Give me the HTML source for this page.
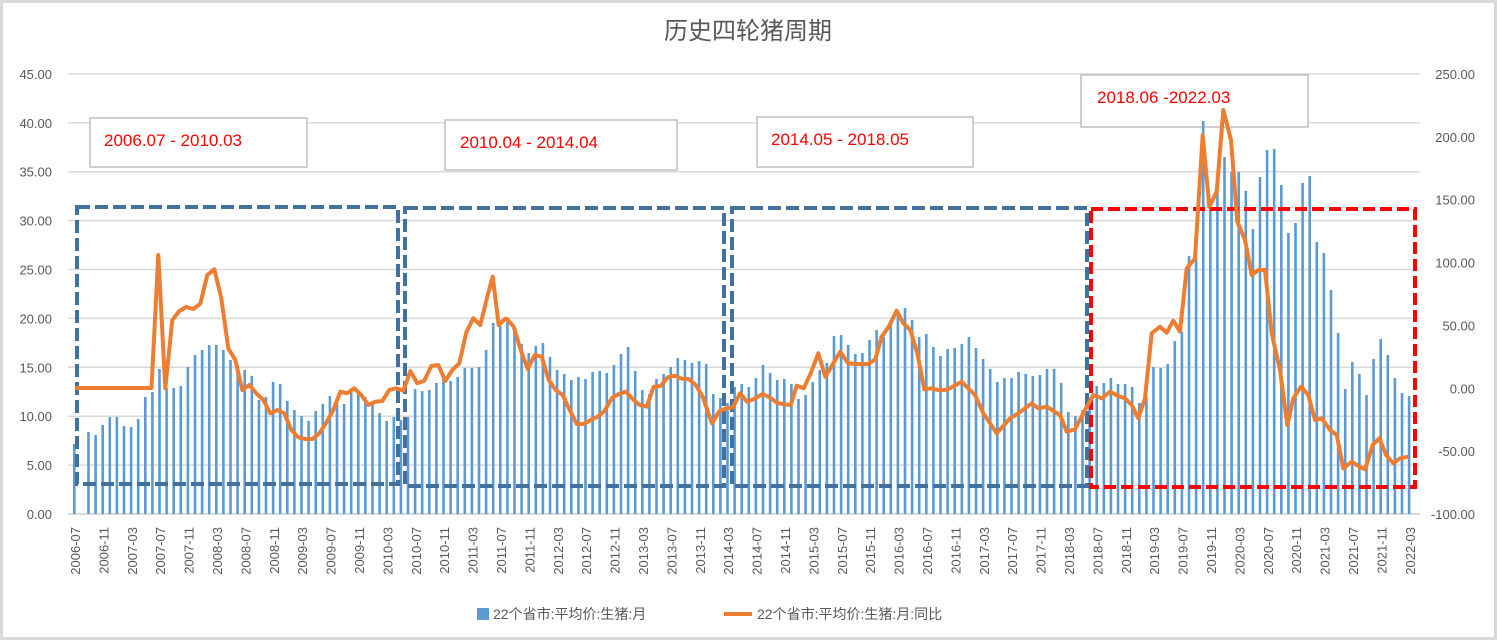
<!DOCTYPE html>
<html><head><meta charset="utf-8">
<style>
html,body{margin:0;padding:0;background:#fff;}
svg{display:block;font-family:"Liberation Sans","Noto Sans CJK SC",sans-serif;}
</style></head>
<body>
<svg id="s" width="1497" height="640" xmlns="http://www.w3.org/2000/svg">
<rect x="1.5" y="1.5" width="1494" height="637" fill="#fff" stroke="#d9d9d9" stroke-width="3"/>
<text x="748" y="39" text-anchor="middle" font-size="24" fill="#595959">历史四轮猪周期</text>
<g id="grid"></g>
<g fill="#fff" stroke="#bfbfbf" stroke-width="1.5">
<rect x="90" y="118" width="217" height="49"/>
<rect x="445" y="120" width="232" height="50"/>
<rect x="757" y="117" width="216" height="50"/>
<rect x="1081" y="75" width="227" height="52"/>
</g>
<g fill="#ff0000" font-size="17">
<text x="104" y="146">2006.07 - 2010.03</text>
<text x="460" y="148">2010.04 - 2014.04</text>
<text x="771" y="145">2014.05 - 2018.05</text>
<text x="1097" y="103">2018.06 -2022.03</text>
</g>
<g id="bars"></g>
<g id="boxes" fill="none" stroke-width="4">
<rect x="77" y="207" width="321" height="277" stroke="#41719c" stroke-dasharray="13,5"/>
<rect x="405" y="208" width="319" height="278" stroke="#41719c" stroke-dasharray="13,5"/>
<rect x="732" y="208" width="355" height="278" stroke="#41719c" stroke-dasharray="13,5"/>
<rect x="1091" y="209" width="324" height="278" stroke="#ff0000" stroke-dasharray="12,5"/>
</g>
<polyline id="line" fill="none" stroke="#ed7d31" stroke-width="4" stroke-linejoin="round"/>
<g id="labels" font-size="13" fill="#595959"></g>
<rect x="477" y="608" width="12" height="12" fill="#5b9bd5"/>
<text x="493" y="619" font-size="14" fill="#595959">22个省市:平均价:生猪:月</text>
<line x1="724" y1="614" x2="752" y2="614" stroke="#ed7d31" stroke-width="4"/>
<text x="757" y="619" font-size="14" fill="#595959">22个省市:平均价:生猪:月:同比</text>
</svg>
<script>
var NS="http://www.w3.org/2000/svg";
function el(t,a,p,txt){var e=document.createElementNS(NS,t);for(var k in a)e.setAttribute(k,a[k]);if(txt!==undefined)e.textContent=txt;document.getElementById(p).appendChild(e);return e;}
for(var i=0;i<=9;i++){var y=514-i*48.9;
 el('line',{x1:68,x2:1420,y1:y,y2:y,stroke:'#d9d9d9','stroke-width':i==0?2:1.5},'grid');
 el('text',{x:52,y:y+5,'text-anchor':'end'},'labels',(i*5).toFixed(2));
}
for(var i=0;i<=7;i++){var y=514-i*440/7;
 el('text',{x:1475,y:y+5,'text-anchor':'end'},'labels',(-100+i*50).toFixed(2));
}
var b=[444,514,432,435,425,417,417,426,427,419,397,392,369,388,388,386,367,355,350,345,345,350,360,365,370,376,400,397,382,384,401,410,416,421,411,404,396,398,404,390,390,397,404,413,421,417,420,417,389,391,390,383,375,381,377,368,368,367,350,323,326,322,330,344,353,346,343,357,370,374,380,377,379,372,371,373,365,354,347,371,390,394,379,374,367,358,360,363,361,364,394,398,403,387,384,387,378,365,373,380,379,384,399,395,382,370,363,336,335,345,354,353,340,330,337,322,315,308,320,337,334,347,356,349,348,344,337,348,359,369,382,378,378,372,374,376,375,369,369,383,412,416,410,403,386,383,378,384,384,387,403,397,367,368,364,341,332,256,258,121,203,190,157,172,172,191,229,177,150,149,185,233,223,183,176,242,253,290,333,389,362,374,395,359,339,355,378,393,396];
for(var i=0;i<b.length;i++){var x=74+i*7.1;el('rect',{x:x-1,y:b[i],width:2.6,height:514-b[i],fill:'#5b9bd5'},'bars');}
for(var i=0;i<189;i+=4){var yr=2006+Math.floor((6+i)/12),m=(6+i)%12+1;var x=75+i*7.1;
 el('text',{x:0,y:0,transform:'translate('+(x+5)+',527) rotate(-90)','text-anchor':'end'},'labels',yr+'-'+(m<10?'0':'')+m);}
var pts=[];
pts.push([75,388],[158-6.5,388]);
var z1=[[295,105],[316,505],[337,300],[358,273],[379,261],[400,267],[421,251],[442,165],[463,148],[484,235],[505,385],[526,420],[547,510],[568,495],[589,520],[610,540],[631,580],[652,570],[673,580],[694,630],[715,652],[736,657],[757,657],[778,640],[799,608],[820,570],[841,515],[862,520],[883,505],[904,525],[925,555],[946,545],[967,543],[988,510],[1009,505],[1030,512],[1051,453],[1072,490],[1093,482],[1114,438],[1135,435],[1156,483],[1177,450],[1198,430],[1219,337],[1240,295],[1261,315],[1282,230],[1298,170],[1316,315],[1335,297]];
z1.forEach(function(p){pts.push([60+p[0]/3,220+p[1]/3]);});
var z2=[[20,296],[41,320],[62,390],[83,447],[104,405],[125,410],[146,480],[167,510],[188,525],[209,570],[230,612],[251,612],[272,600],[293,590],[314,572],[335,535],[356,522],[377,515],[398,537],[419,555],[440,560],[461,500],[482,498],[503,472],[524,467],[545,476],[566,477],[587,495],[608,530],[636,610],[657,575],[678,565],[699,562],[720,520],[741,545],[762,537],[788,522],[809,532],[830,548],[851,553],[872,555],[890,497],[911,505],[932,460],[955,400],[976,470],[1000,430],[1021,395],[1044,430],[1065,432],[1086,432],[1105,432],[1126,418],[1145,350],[1166,320],[1190,272],[1210,310],[1231,330],[1252,400],[1273,508],[1294,505],[1315,510],[1336,510]];
z2.forEach(function(p){pts.push([500+p[0]/3,220+p[1]/3]);});
var z3=[[0,955],[35,935],[75,975],[100,1030],[140,1090],[180,1045],[205,1030],[245,1000],[265,1015],[290,1010],[330,1035],[350,1085],[375,1078],[400,1030],[430,975],[455,985],[480,965],[505,978],[525,985],[545,1005],[565,1045],[585,985],[605,790],[630,770],[650,788],[670,752],[690,785],[710,595],[735,565],[758,195],[778,410],[800,365],[820,120],[843,210],[862,455],[885,510],[905,615],[925,600],[945,600],[965,790],[990,900],[1012,1065],[1030,985],[1053,950],[1075,975],[1095,1050],[1115,1045],[1140,1080],[1160,1095],[1180,1195],[1205,1175],[1225,1188],[1245,1198],[1268,1125],[1288,1105],[1308,1155],[1330,1180],[1350,1165],[1375,1160]];
z3.forEach(function(p){pts.push([950+p[0]/3,70+p[1]/3]);});
document.getElementById('line').setAttribute('points',pts.map(function(p){return p[0].toFixed(1)+','+p[1].toFixed(1);}).join(' '));
</script>
</body></html>
